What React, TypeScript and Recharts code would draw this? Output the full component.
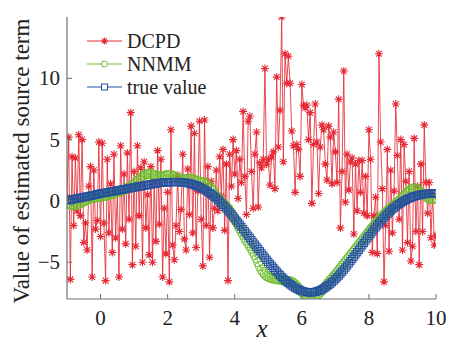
import React from "react";
import { LineChart, Line, XAxis, YAxis } from "recharts";

// DCPD estimate, sampled uniformly on x in [-1, 10] (step 0.05)
const DCPD: number[] = [
  0.3, 5.2, -6.4, 3.6, -2.0, 3.5, -0.8, 5.4, -1.2, 5.0,
  -3.4, -1.8, -4.0, 1.2, 2.8, -6.2, 2.5, -2.3, -1.6, 4.8,
  -2.9, 4.7, -1.8, -6.5, 3.4, -2.6, 1.4, -4.2, 3.8, -3.0,
  0.6, -6.2, 4.5, -2.3, 2.2, -3.5, 3.9, -1.5, 7.2, -5.2,
  2.4, -3.7, 4.5, -1.2, 2.7, -5.0, 3.2, -2.2, 0.5, -4.4,
  2.8, -5.0, 1.6, -3.3, 4.1, -1.9, 3.4, -6.2, -0.6, -4.3,
  0.7, -6.6, 5.8, -3.6, -4.8, -2.0, 2.1, -2.5, -0.7, 3.8,
  -3.1, -4.0, 2.6, -1.1, 6.1, -2.6, 5.5, -3.8, 0.8, 6.5,
  -1.5, -5.3, 6.6, -2.0, 2.8, -4.6, 1.6, -2.2, -0.6,
  2.5, -0.8, 3.6, 0.4, 4.2, -2.4, 3.0, -6.5, 3.8, 1.2,
  5.0, 2.2, 4.1, 0.2, 3.4, 1.5, 7.3, 2.0, -1.1, 6.5,
  6.9, 2.4, -0.6, 3.8, 5.6, -0.5, 3.1, 2.7, 3.4, 10.8,
  3.0, 3.4, 1.3, 3.6, 4.0, 1.0, 10.1, 4.4, 7.4, 15.0,
  3.2, 12.0, 9.6, 11.8, 9.6, 5.7, 4.5, 0.7, 4.6, 4.2,
  2.0, 9.5, 7.8, 7.6, 7.8, 5.0, 7.2, -0.2, 4.6, 7.9,
  4.8, 0.6, 4.4, 6.2, 5.8, 3.0, 1.7, 6.1, 5.2, 1.4,
  5.6, 4.0, 1.5, 8.3, -2.2, 2.4, 10.6, -0.1, 3.8, 0.9,
  3.2, 3.5, -2.7, 3.0, -0.8, 3.3, 0.7,
  3.3, -1.0, 2.0, -1.2, 5.8, 3.4, -4.2, -1.2, 0.3, -4.3,
  12.0, 4.8, 1.0, -6.6, -2.0, 4.2, -4.1, 2.5, -2.6, 0.8,
  7.9, 3.7, -1.5, 5.0, -4.0, 4.6, 1.6, -3.4, 2.4, -4.9,
  -3.7, 5.1, -2.5, 1.2, -5.2, 3.0, -2.5, 6.2, 1.5, -1.0,
  1.5, -3.0, 0.6, -3.6, -2.8,
];

// NNMM estimate, step 0.05 on x in [-1, 10]
const NNMM: number[] = [
  -0.20, -0.25, -0.30, -0.33, -0.35, -0.33, -0.30, -0.25, -0.20, -0.12,
  -0.05, 0.03, 0.10, 0.15, 0.20, 0.23, 0.25, 0.28, 0.30, 0.33,
  0.35, 0.38, 0.40, 0.43, 0.45, 0.50, 0.55, 0.58, 0.60, 0.65,
  0.70, 0.75, 0.80, 0.85, 0.90, 0.97, 1.05, 1.12, 1.20, 1.30,
  1.40, 1.52, 1.65, 1.78, 1.90, 2.00, 2.10, 2.16, 2.20, 2.21,
  2.20, 2.16, 2.10, 2.05, 2.00, 1.99, 2.00, 2.02, 2.05, 2.08,
  2.10, 2.11, 2.10, 2.06, 2.00, 1.93, 1.85, 1.79, 1.75, 1.74,
  1.75, 1.78, 1.80, 1.81, 1.80, 1.76, 1.70, 1.65, 1.60, 1.57,
  1.55, 1.53, 1.50, 1.42, 1.30, 1.16, 1.00, 0.81, 0.60, 0.42,
  0.25, 0.10, -0.05, -0.18, -0.30, -0.44, -0.60, -0.79, -1.00, -1.24,
  -1.50, -1.75, -2.00, -2.25, -2.50, -2.75, -3.00, -3.23, -3.45, -3.67,
  -3.90, -4.14, -4.40, -4.69, -5.00, -5.31, -5.60, -5.82, -6.00, -6.12,
  -6.20, -6.26, -6.30, -6.33, -6.35, -6.38, -6.40, -6.43, -6.45, -6.48,
  -6.50, -6.52, -6.55, -6.57, -6.60, -6.68, -6.80, -6.94, -7.10, -7.28,
  -7.45, -7.59, -7.70, -7.76, -7.80, -7.83, -7.85, -7.84, -7.80, -7.72,
  -7.60, -7.46, -7.30, -7.13, -6.95, -6.78, -6.60, -6.45, -6.30, -6.15,
  -6.00, -5.83, -5.65, -5.48, -5.30, -5.13, -4.95, -4.78, -4.60, -4.43,
  -4.25, -4.08, -3.90, -3.73, -3.55, -3.38, -3.20, -3.03, -2.85, -2.68,
  -2.50, -2.33, -2.15, -1.98, -1.82, -1.66, -1.50, -1.35, -1.20, -1.06,
  -0.92, -0.79, -0.66, -0.54, -0.42, -0.31, -0.20, -0.09, 0.02, 0.15,
  0.30, 0.45, 0.60, 0.73, 0.85, 0.94, 1.00, 1.02, 1.00, 0.94,
  0.85, 0.73, 0.60, 0.47, 0.35, 0.26, 0.20, 0.17, 0.15, 0.17,
  0.20,
];

// true source term, step 0.05 on x in [-1, 10]
const TRUE_VALUE: number[] = [
  0.05, 0.07, 0.10, 0.12, 0.15, 0.17, 0.20, 0.22, 0.25, 0.27,
  0.30, 0.33, 0.36, 0.39, 0.42, 0.45, 0.48, 0.51, 0.54, 0.57,
  0.60, 0.62, 0.65, 0.67, 0.70, 0.72, 0.75, 0.77, 0.80, 0.82,
  0.85, 0.87, 0.90, 0.92, 0.95, 0.97, 1.00, 1.02, 1.05, 1.07,
  1.10, 1.12, 1.15, 1.17, 1.20, 1.22, 1.25, 1.27, 1.30, 1.32,
  1.35, 1.37, 1.40, 1.42, 1.44, 1.46, 1.47, 1.49, 1.50, 1.51,
  1.52, 1.53, 1.53, 1.54, 1.54, 1.54, 1.54, 1.53, 1.52, 1.51,
  1.49, 1.47, 1.45, 1.42, 1.38, 1.34, 1.30, 1.25, 1.20, 1.14,
  1.07, 1.00, 0.92, 0.84, 0.75, 0.65, 0.55, 0.44, 0.33, 0.21,
  0.08, -0.05, -0.19, -0.33, -0.48, -0.63, -0.79, -0.94, -1.10, -1.26,
  -1.43, -1.60, -1.77, -1.94, -2.12, -2.30, -2.48, -2.66, -2.84, -3.02,
  -3.20, -3.38, -3.56, -3.74, -3.92, -4.10, -4.28, -4.45, -4.63, -4.80,
  -4.97, -5.14, -5.30, -5.46, -5.62, -5.77, -5.92, -6.06, -6.20, -6.33,
  -6.46, -6.58, -6.70, -6.80, -6.90, -6.99, -7.08, -7.16, -7.23, -7.29,
  -7.34, -7.38, -7.42, -7.44, -7.46, -7.46, -7.46, -7.44, -7.42, -7.38,
  -7.34, -7.28, -7.22, -7.14, -7.06, -6.96, -6.86, -6.75, -6.63, -6.50,
  -6.37, -6.23, -6.08, -5.93, -5.77, -5.61, -5.44, -5.27, -5.09, -4.91,
  -4.73, -4.55, -4.36, -4.18, -3.99, -3.80, -3.61, -3.43, -3.24, -3.05,
  -2.87, -2.69, -2.51, -2.33, -2.16, -1.99, -1.83, -1.67, -1.51, -1.36,
  -1.21, -1.07, -0.93, -0.80, -0.68, -0.56, -0.45, -0.35, -0.25, -0.16,
  -0.07, 0.01, 0.08, 0.15, 0.21, 0.27, 0.32, 0.37, 0.41, 0.45,
  0.48, 0.51, 0.53, 0.55, 0.57, 0.58, 0.59, 0.60, 0.60, 0.60,
  0.60,
];

const X_MIN = -1;
const X_MAX = 10;
const Y_MIN = -8;
const Y_MAX = 15;
const X_TICKS = [0, 2, 4, 6, 8, 10];
const Y_TICKS = [-5, 0, 5, 10];
const SERIES_NAMES = ["DCPD", "NNMM", "true value"];
const Y_TITLE = "Value of estimated source term";
const X_TITLE = "x";

const RED = "#e52a35";
const GREEN = "#6fbf2e";
const BLUE = "#24509f";
const AXIS = "#707070";
const FONT = "Liberation Serif";

const toSeries = (values: number[]) =>
  values.map((v, i) => ({ x: X_MIN + (i * (X_MAX - X_MIN)) / (values.length - 1), y: v }));

const dcpdData = toSeries(DCPD);
const nnmmData = toSeries(NNMM);
const trueData = toSeries(TRUE_VALUE);

const starPath = (cx: number, cy: number, s: number) => {
  const d = s * 0.72;
  return `M${cx - s},${cy}L${cx + s},${cy}M${cx},${cy - s}L${cx},${cy + s}M${cx - d},${cy - d}L${cx + d},${cy + d}M${cx - d},${cy + d}L${cx + d},${cy - d}`;
};

// SVG marker definitions: placed by the browser on every vertex of the line
// path that Recharts computes from its scales.
const MarkerDefs = () => (
  <svg width={0} height={0} style={{ position: "absolute", left: 0, top: 0 }}>
    <defs>
      <marker id="mk-star" markerUnits="userSpaceOnUse" markerWidth={12} markerHeight={12} refX={6} refY={6} orient="0" overflow="visible">
        <path d={starPath(6, 6, 4)} stroke={RED} strokeWidth={1.1} fill="none" />
      </marker>
      <marker id="mk-circle" markerUnits="userSpaceOnUse" markerWidth={12} markerHeight={12} refX={6} refY={6} orient="0" overflow="visible">
        <circle cx={6} cy={6} r={4.6} stroke={GREEN} strokeWidth={1} fill="none" />
      </marker>
      <marker id="mk-square" markerUnits="userSpaceOnUse" markerWidth={12} markerHeight={12} refX={6} refY={6} orient="0" overflow="visible">
        <rect x={2.4} y={2.4} width={7.2} height={7.2} stroke={BLUE} strokeWidth={1} fill="none" />
      </marker>
    </defs>
  </svg>
);

const XTick = (props: any) => {
  const { x, y, payload } = props;
  return (
    <g>
      <line x1={x} x2={x} y1={y} y2={y - 5} stroke={AXIS} strokeWidth={1} />
      <text x={x} y={y + 26} textAnchor="middle" fontFamily={FONT} fontSize={21} fill="#222">
        {String(payload.value)}
      </text>
    </g>
  );
};

const YTick = (props: any) => {
  const { x, y, payload } = props;
  const v = payload.value as number;
  const label = v < 0 ? `\u2212${Math.abs(v)}` : String(v);
  return (
    <g>
      <line x1={x} x2={x + 5} y1={y} y2={y} stroke={AXIS} strokeWidth={1} />
      <text x={x - 7} y={y + 7} textAnchor="end" fontFamily={FONT} fontSize={21} fill="#222">
        {label}
      </text>
    </g>
  );
};

const LegendOverlay = () => {
  const rows = [
    { name: SERIES_NAMES[0], color: RED, kind: "star", y: 41 },
    { name: SERIES_NAMES[1], color: GREEN, kind: "circle", y: 64 },
    { name: SERIES_NAMES[2], color: BLUE, kind: "square", y: 87 },
  ];
  return (
    <svg width={449} height={348} style={{ position: "absolute", left: 0, top: 0, pointerEvents: "none" }}>
      {rows.map((r) => (
        <g key={r.name}>
          <line x1={87} x2={122} y1={r.y} y2={r.y} stroke={r.color} strokeWidth={1.2} />
          {r.kind === "star" && <path d={starPath(104.5, r.y, 3.5)} stroke={r.color} strokeWidth={1.1} fill="none" />}
          {r.kind === "circle" && <circle cx={104.5} cy={r.y} r={3} stroke={r.color} fill="#fff" strokeWidth={1} />}
          {r.kind === "square" && <rect x={101.5} y={r.y - 3} width={6} height={6} stroke={r.color} fill="#fff" strokeWidth={1} />}
          <text x={127} y={r.y + 7} fontFamily={FONT} fontSize={20} fill="#222">
            {r.name}
          </text>
        </g>
      ))}
      <text
        x={0}
        y={0}
        transform="translate(29,161) rotate(-90)"
        textAnchor="middle"
        fontFamily={FONT}
        fontSize={23}
        fill="#222"
      >
        {Y_TITLE}
      </text>
      <text x={262} y={337} textAnchor="middle" fontFamily={FONT} fontStyle="italic" fontSize={25} fill="#222">
        {X_TITLE}
      </text>
    </svg>
  );
};

const FONT_CSS = `#root text, #root tspan { font-family: "Liberation Serif", "Times New Roman", serif !important; }`;

export default function App() {
  return (
    <div style={{ position: "absolute", left: 0, top: 0, width: 449, height: 348 }}>
      <style>{FONT_CSS}</style>
      <MarkerDefs />
      <LineChart width={449} height={348} margin={{ top: 17, right: 13, bottom: 0, left: 0 }}>
        <XAxis
          xAxisId="b"
          type="number"
          dataKey="x"
          domain={[X_MIN, X_MAX]}
          ticks={X_TICKS}
          allowDataOverflow
          height={49}
          tickSize={0}
          tickMargin={0}
          tick={<XTick />}
          axisLine={{ stroke: AXIS, strokeWidth: 1.2 }}
          tickLine={false}
        />
        <XAxis
          xAxisId="t"
          orientation="top"
          type="number"
          dataKey="x"
          domain={[X_MIN, X_MAX]}
          allowDataOverflow
          height={0}
          tick={false}
          tickLine={false}
          axisLine={{ stroke: AXIS, strokeWidth: 1.2 }}
        />
        <YAxis
          yAxisId="l"
          type="number"
          domain={[Y_MIN, Y_MAX]}
          ticks={Y_TICKS}
          allowDataOverflow
          width={67}
          tickSize={0}
          tickMargin={0}
          tick={<YTick />}
          axisLine={{ stroke: AXIS, strokeWidth: 1.2 }}
          tickLine={false}
        />
        <YAxis
          yAxisId="r"
          orientation="right"
          type="number"
          domain={[Y_MIN, Y_MAX]}
          allowDataOverflow
          width={0}
          tick={false}
          tickLine={false}
          axisLine={{ stroke: AXIS, strokeWidth: 1.2 }}
        />
        <Line
          xAxisId="b"
          yAxisId="l"
          data={dcpdData}
          dataKey="y"
          type="linear"
          stroke={RED}
          strokeWidth={1}
          strokeOpacity={0.85}
          markerStart="url(#mk-star)"
          markerMid="url(#mk-star)"
          markerEnd="url(#mk-star)"
          dot={false}
          activeDot={false}
          isAnimationActive={false}
        />
        <Line
          xAxisId="b"
          yAxisId="l"
          data={nnmmData}
          dataKey="y"
          type="linear"
          stroke={GREEN}
          strokeWidth={1}
          markerStart="url(#mk-circle)"
          markerMid="url(#mk-circle)"
          markerEnd="url(#mk-circle)"
          dot={false}
          activeDot={false}
          isAnimationActive={false}
        />
        <Line
          xAxisId="b"
          yAxisId="l"
          data={trueData}
          dataKey="y"
          type="linear"
          stroke={BLUE}
          strokeWidth={1}
          markerStart="url(#mk-square)"
          markerMid="url(#mk-square)"
          markerEnd="url(#mk-square)"
          dot={false}
          activeDot={false}
          isAnimationActive={false}
        />
      </LineChart>
      <LegendOverlay />
    </div>
  );
}
